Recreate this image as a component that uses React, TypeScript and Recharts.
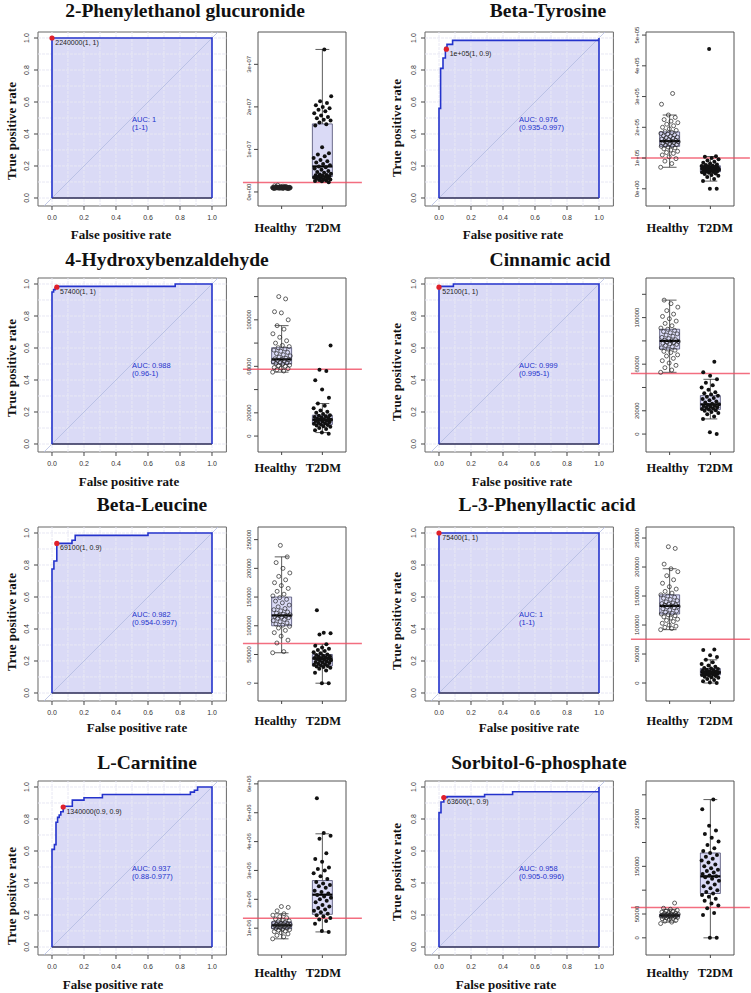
import React from 'react';
import { ComposedChart, XAxis, YAxis, Line, Area, Scatter, ReferenceLine, ReferenceArea } from 'recharts';

// ---------------- DATA ----------------
const titles = [
  '2-Phenylethanol glucuronide', 'Beta-Tyrosine',
  '4-Hydroxybenzaldehyde', 'Cinnamic acid',
  'Beta-Leucine', 'L-3-Phenyllactic acid',
  'L-Carnitine', 'Sorbitol-6-phosphate',
];
const groups = ['Healthy', 'T2DM'];
const rocTicks = [0, 0.2, 0.4, 0.6, 0.8, 1];
const rocTickLabels = ['0.0', '0.2', '0.4', '0.6', '0.8', '1.0'];
const gridSteps = [0, 0.1, 0.2, 0.3, 0.4, 0.5, 0.6, 0.7, 0.8, 0.9, 1];

// ROC curves (false positive rate / true positive rate vertices)
const fpr1 = [0, 0, 1];
const tpr1 = [0, 1, 1];
const fpr2 = [0, 0, 0.01, 0.01, 0.025, 0.025, 0.04, 0.04, 0.05, 0.05, 0.085, 0.085, 1, 1];
const tpr2 = [0, 0.56, 0.56, 0.81, 0.81, 0.875, 0.875, 0.94, 0.94, 0.96, 0.96, 0.985, 0.985, 1];
const fpr3 = [0, 0, 0.01, 0.01, 0.02, 0.02, 0.03, 0.03, 0.77, 0.77, 1];
const tpr3 = [0, 0.95, 0.95, 0.965, 0.965, 0.975, 0.975, 0.985, 0.985, 1, 1];
const fpr4 = [0, 0, 0.09, 0.09, 1];
const tpr4 = [0, 0.985, 0.985, 1, 1];
const fpr5 = [0, 0, 0.012, 0.012, 0.03, 0.03, 0.125, 0.125, 0.145, 0.145, 0.6, 0.6, 1];
const tpr5 = [0, 0.775, 0.775, 0.825, 0.825, 0.935, 0.935, 0.955, 0.955, 0.985, 0.985, 1, 1];
const fpr6 = [0, 0, 1];
const tpr6 = [0, 1, 1];
const fpr7 = [0, 0, 0.015, 0.015, 0.025, 0.025, 0.035, 0.035, 0.045, 0.045, 0.055, 0.055, 0.07, 0.07, 0.127, 0.127, 0.2, 0.2, 0.315, 0.315, 0.865, 0.865, 0.89, 0.89, 0.91, 0.91, 1];
const tpr7 = [0, 0.61, 0.61, 0.64, 0.64, 0.78, 0.78, 0.81, 0.81, 0.825, 0.825, 0.845, 0.845, 0.88, 0.88, 0.918, 0.918, 0.933, 0.933, 0.953, 0.953, 0.968, 0.968, 0.98, 0.98, 1, 1];
const fpr8 = [0, 0, 0.0125, 0.0125, 0.03, 0.03, 0.05, 0.05, 0.285, 0.285, 0.46, 0.46, 1, 1];
const tpr8 = [0, 0.84, 0.84, 0.906, 0.906, 0.934, 0.934, 0.94, 0.94, 0.953, 0.953, 0.97, 0.97, 1];

// best cut-off points on ROC [fpr, tpr] and their labels
const bestPoints = [[0, 1], [0.046, 0.93], [0.03, 0.98], [0, 0.98], [0.03, 0.935], [0, 1], [0.07, 0.875], [0.03, 0.934]];
const bestLabels = ['2240000(1, 1)', '1e+05(1, 0.9)', '57400(1, 1)', '52100(1, 1)', '69100(1, 0.9)', '75400(1, 1)', '1340000(0.9, 0.9)', '63600(1, 0.9)'];
const aucTexts = [
  ['AUC: 1', '(1-1)'], ['AUC: 0.976', '(0.935-0.997)'],
  ['AUC: 0.988', '(0.96-1)'], ['AUC: 0.999', '(0.995-1)'],
  ['AUC: 0.982', '(0.954-0.997)'], ['AUC: 1', '(1-1)'],
  ['AUC: 0.937', '(0.88-0.977)'], ['AUC: 0.958', '(0.905-0.996)'],
];
const aucPos = [0.5, 0.49];

// cut-off values (red line)
const cutoffs = [2240000, 100000, 57400, 52100, 69100, 75400, 1340000, 63600];

// box statistics [lower whisker, Q1, median, Q3, upper whisker]
const box1H = [0.8e6, 0.93e6, 1.0e6, 1.08e6, 1.3e6];
const box1T = [2.3e6, 3.6e6, 6.0e6, 1.6e7, 3.35e7];
const box2H = [70000, 138000, 155000, 185000, 240000];
const box2T = [25000, 55000, 65000, 75000, 105000];
const box3H = [55000, 62000, 66000, 76000, 95000];
const box3T = [3000, 10000, 14000, 18000, 28000];
const box4H = [53000, 73000, 80000, 90000, 115000];
const box4T = [13000, 21000, 25500, 33000, 47000];
const box5H = [53000, 100000, 118000, 150000, 220000];
const box5T = [0, 30000, 43000, 50000, 68000];
const box6H = [92000, 119000, 133000, 152000, 197000];
const box6T = [0, 14000, 19000, 25000, 40000];
const box7H = [0.63e6, 0.98e6, 1.1e6, 1.22e6, 1.5e6];
const box7T = [0.87e6, 1.48e6, 2.16e6, 2.65e6, 4.27e6];
const box8H = [33000, 44000, 47000, 50000, 60000];
const box8T = [0, 93000, 129000, 178000, 290000];

// individual samples
const pts1H = [1.02, 0.95, 1.10, 0.88, 1.05, 0.92, 1.15, 0.98, 1.08, 0.85, 1.20, 0.97, 1.03, 0.90, 1.12, 0.94, 1.00, 1.06, 0.87, 1.25, 0.99, 1.04, 0.93, 1.09, 0.96, 1.30, 0.89, 1.01, 1.14, 0.91, 1.07, 0.95, 1.18, 0.84, 1.02, 0.98, 1.11, 0.80, 1.05, 1.45, 0.97, 1.03, 0.92, 1.35, 1.00, 0.86, 1.08, 0.94, 1.22, 1.60, 0.99, 0.90, 1.06, 0.96].map(v => v * 1e6);
const pts1T = [2.3, 2.5, 2.6, 2.7, 2.8, 2.9, 3.0, 3.1, 3.2, 3.3, 3.4, 3.5, 3.6, 3.7, 3.8, 3.9, 4.0, 4.1, 4.3, 4.5, 4.7, 4.9, 5.2, 5.5, 5.8, 6.0, 6.3, 6.6, 6.9, 7.2, 7.5, 8.0, 8.4, 8.8, 9.1, 10.5, 15.6, 15.9, 16.3, 16.8, 17.0, 17.3, 17.6, 18.0, 18.5, 19.0, 19.3, 19.7, 20.0, 20.4, 20.9, 21.3, 22.5, 33.5].map(v => v * 1e6);
const pts2H = [70, 82, 90, 98, 104, 110, 115, 118, 122, 126, 130, 133, 136, 138, 140, 142, 144, 146, 148, 150, 151, 153, 155, 156, 158, 160, 162, 164, 166, 168, 170, 172, 175, 178, 180, 183, 186, 190, 195, 200, 205, 210, 215, 220, 225, 232, 240, 275, 310].map(v => v * 1e3);
const pts2T = [0, 0, 25, 32, 38, 42, 45, 48, 50, 52, 54, 55, 56, 57, 58, 59, 60, 61, 62, 63, 64, 65, 65, 66, 67, 68, 69, 70, 71, 72, 73, 74, 75, 77, 79, 82, 85, 88, 92, 96, 100, 104, 106, 455].map(v => v * 1e3);
const pts3H = [55, 56, 57, 58, 58.5, 59, 60, 60.5, 61, 62, 62.5, 63, 63.5, 64, 64.5, 65, 65.5, 66, 66.5, 67, 68, 69, 70, 71, 72, 73, 74, 75, 76, 77, 78, 80, 82, 85, 88, 92, 95, 100, 106, 107, 118, 120].map(v => v * 1e3);
const pts3T = [2, 3, 5, 6, 7, 8, 8.5, 9, 9.5, 10, 10.5, 11, 11.5, 12, 12.5, 13, 13.5, 14, 14, 14.5, 15, 15.5, 16, 16.5, 17, 17.5, 18, 19, 20, 21, 22, 24, 26, 28, 33, 40, 48, 56, 57, 78].map(v => v * 1e3);
const pts4H = [53, 55, 57, 59, 61, 63, 65, 67, 68, 70, 71, 72, 73, 74, 75, 76, 77, 77.5, 78, 78.5, 79, 79.5, 80, 80.5, 81, 82, 83, 84, 85, 86, 87, 88, 89, 90, 91, 93, 95, 97, 99, 101, 103, 106, 109, 112, 115].map(v => v * 1e3);
const pts4T = [0, 1.5, 13, 15, 17, 18, 19, 20, 20.5, 21, 21.5, 22, 22.5, 23, 23.5, 24, 24.5, 25, 25.5, 26, 27, 28, 29, 30, 31, 32, 33, 34, 35, 36, 38, 40, 42, 44, 47, 50, 53, 62].map(v => v * 1e3);
const pts5H = [53, 55, 70, 75, 82, 88, 92, 96, 99, 101, 103, 105, 107, 109, 111, 113, 114, 115, 116, 117, 118, 119, 120, 122, 124, 126, 128, 130, 133, 136, 140, 143, 146, 149, 152, 155, 160, 165, 170, 175, 180, 186, 192, 200, 210, 220, 240].map(v => v * 1e3);
const pts5T = [0, 0, 18, 22, 25, 27, 28, 29, 30, 31, 32, 33, 34, 35, 36, 37, 38, 39, 40, 41, 42, 43, 43.5, 44, 45, 46, 47, 48, 49, 50, 52, 54, 56, 58, 60, 62, 65, 68, 85, 87, 88, 127].map(v => v * 1e3);
const pts6H = [92, 94, 96, 98, 100, 103, 106, 108, 110, 112, 114, 116, 118, 119, 120, 122, 124, 126, 128, 130, 131, 132, 133, 134, 135, 136, 137, 138, 140, 142, 144, 146, 148, 150, 152, 155, 158, 162, 166, 172, 178, 185, 192, 197, 205, 232, 235].map(v => v * 1e3);
const pts6T = [0, 1, 3, 5, 7, 9, 10, 11, 12, 13, 14, 14.5, 15, 15.5, 16, 16.5, 17, 17.5, 18, 18.5, 19, 19.5, 20, 21, 22, 23, 24, 25, 26, 28, 30, 33, 36, 40, 45, 48, 57, 58].map(v => v * 1e3);
const pts7H = [0.63, 0.7, 0.75, 0.8, 0.84, 0.88, 0.9, 0.93, 0.95, 0.97, 0.99, 1.0, 1.02, 1.04, 1.05, 1.06, 1.07, 1.08, 1.09, 1.1, 1.11, 1.12, 1.13, 1.14, 1.15, 1.16, 1.18, 1.2, 1.22, 1.25, 1.28, 1.32, 1.36, 1.4, 1.45, 1.5, 1.6, 1.72, 1.75].map(v => v * 1e6);
const pts7T = [0.87, 0.9, 1.15, 1.25, 1.3, 1.35, 1.4, 1.45, 1.5, 1.55, 1.6, 1.65, 1.7, 1.75, 1.8, 1.9, 1.95, 2.0, 2.05, 2.1, 2.15, 2.2, 2.25, 2.3, 2.4, 2.45, 2.5, 2.55, 2.6, 2.7, 2.8, 2.9, 3.0, 3.05, 3.1, 3.3, 3.4, 3.6, 4.1, 4.2, 4.3, 5.5].map(v => v * 1e6);
const pts8H = [30, 33, 35, 37, 39, 40, 41, 42, 43, 43.5, 44, 44.5, 45, 45.5, 46, 46.5, 47, 47.5, 48, 48.5, 49, 49.5, 50, 51, 52, 53, 54, 55, 56, 58, 60, 62, 73].map(v => v * 1e3);
const pts8T = [0, 0, 48, 52, 62, 68, 72, 78, 82, 86, 90, 93, 96, 100, 104, 108, 112, 116, 120, 124, 127, 129, 131, 134, 137, 140, 143, 146, 150, 154, 158, 162, 166, 170, 174, 178, 182, 188, 195, 202, 210, 218, 225, 235, 270, 290].map(v => v * 1e3);

// box-plot y axes
const yDomain1 = [-0.33e7, 3.76e7];
const yTicks1 = [0, 1e7, 2e7, 3e7];
const yLabels1 = ['0e+00', '1e+07', '2e+07', '3e+07'];
const yDomain2 = [-56000, 510000];
const yTicks2 = [0, 100000, 200000, 300000, 400000, 500000];
const yLabels2 = ['0e+00', '1e+05', '2e+05', '3e+05', '4e+05', '5e+05'];
const yDomain3 = [-13700, 136000];
const yDomain4 = [-15400, 134000];
const yTicks34 = [0, 20000, 40000, 60000, 80000, 100000, 120000];
const yLabels34 = ['0', '20000', '', '60000', '', '100000', ''];
const yDomain5 = [-31000, 272000];
const yDomain6 = [-31000, 269000];
const yTicks56 = [0, 50000, 100000, 150000, 200000, 250000];
const yLabels56 = ['0', '50000', '100000', '150000', '200000', '250000'];
const yDomain7 = [0.07e6, 6.1e6];
const yTicks7 = [1e6, 2e6, 3e6, 4e6, 5e6, 6e6];
const yLabels7 = ['1e+06', '2e+06', '3e+06', '4e+06', '5e+06', '6e+06'];
const yDomain8 = [-36000, 329000];
const yTicks8 = [0, 50000, 100000, 150000, 200000, 250000, 300000];
const yLabels8 = ['0', '50000', '', '150000', '', '250000', ''];

const panels = [
  { fpr: fpr1, tpr: tpr1, bh: box1H, bt: box1T, ph: pts1H, pt: pts1T, yd: yDomain1, yt: yTicks1, yl: yLabels1 },
  { fpr: fpr2, tpr: tpr2, bh: box2H, bt: box2T, ph: pts2H, pt: pts2T, yd: yDomain2, yt: yTicks2, yl: yLabels2 },
  { fpr: fpr3, tpr: tpr3, bh: box3H, bt: box3T, ph: pts3H, pt: pts3T, yd: yDomain3, yt: yTicks34, yl: yLabels34 },
  { fpr: fpr4, tpr: tpr4, bh: box4H, bt: box4T, ph: pts4H, pt: pts4T, yd: yDomain4, yt: yTicks34, yl: yLabels34 },
  { fpr: fpr5, tpr: tpr5, bh: box5H, bt: box5T, ph: pts5H, pt: pts5T, yd: yDomain5, yt: yTicks56, yl: yLabels56 },
  { fpr: fpr6, tpr: tpr6, bh: box6H, bt: box6T, ph: pts6H, pt: pts6T, yd: yDomain6, yt: yTicks56, yl: yLabels56 },
  { fpr: fpr7, tpr: tpr7, bh: box7H, bt: box7T, ph: pts7H, pt: pts7T, yd: yDomain7, yt: yTicks7, yl: yLabels7 },
  { fpr: fpr8, tpr: tpr8, bh: box8H, bt: box8T, ph: pts8H, pt: pts8T, yd: yDomain8, yt: yTicks8, yl: yLabels8 },
];

// ---------------- LAYOUT / STYLE ----------------
const SANS = '"Liberation Sans", Arial, sans-serif';
const SERIF = '"Liberation Serif", "Times New Roman", serif';
const ROC_X_DOMAIN = [-0.0875, 1.09];
const ROC_Y_DOMAIN = [-0.05, 1.0375];
const ROC_FRAME_W = 188.4;
const FRAME_H = 174;
const BOX_X_DOMAIN = [0.42, 2.58];
const BOX_FRAME_W = 88;

const COLS = [
  { rocL: 38, boxL: 258, yTitleX: 12, catDx: [-6, 1] },
  { rocL: 425, boxL: 646, yTitleX: 397, catDx: [-2, 5] },
];
const ROWS = [
  { top: 32, titleY: 10, xTitleY: 235, catOff: 21 },
  { top: 278, titleY: 259, xTitleY: 482, catOff: 15 },
  { top: 527, titleY: 504, xTitleY: 728, catOff: 19 },
  { top: 781, titleY: 762, xTitleY: 985, catOff: 17 },
];
const TITLE_X = [185, 548, 167, 550, 152, 547, 147, 539];
const Y_TITLE_Y = [131, 128, 368, 372, 622, 621, 896, 872];
const X_TITLE_X = [121, 513, 129, 522, 137, 529, 113, 506];

const BLUE = '#2433cc';
const LAVENDER = '#dadaf6';

const jit = (i: number) => ((((i * 0.6180339887) % 1) - 0.5) * 0.44);

function RocChart({ idx }: { idx: number }) {
  const p = panels[idx];
  const col = COLS[idx % 2];
  const row = ROWS[Math.floor(idx / 2)];
  const pts = p.fpr.map((x, i) => ({ fpr: x, tpr: p.tpr[i] }));
  const edge = [...pts, { fpr: 1, tpr: 0 }];
  const bottom = [{ fpr: 1, tpr: 0 }, { fpr: 0, tpr: 0 }];
  const best = [{ fpr: bestPoints[idx][0], tpr: bestPoints[idx][1] }];
  const auc = [{ fpr: aucPos[0], tpr: aucPos[1] }];
  const W = 40 + ROC_FRAME_W + 10;
  const H = 10 + FRAME_H + 40;
  return (
    <div style={{ position: 'absolute', left: col.rocL - 40, top: row.top - 10 }}>
      <ComposedChart width={W} height={H} margin={{ top: 10, right: 10, left: 0, bottom: 0 }}>
        <XAxis type="number" dataKey="fpr" domain={ROC_X_DOMAIN} allowDataOverflow ticks={rocTicks} interval={0}
          axisLine={false} tickLine={{ stroke: '#444' }} tickSize={4} tickMargin={0} height={40}
          tick={(t: any) => (
            <text x={t.x} y={t.y + 10.5} textAnchor="middle" fontSize={7} fontFamily={SANS} fill="#333">
              {rocTickLabels[rocTicks.indexOf(t.payload.value)]}
            </text>
          )} />
        <YAxis type="number" dataKey="tpr" domain={ROC_Y_DOMAIN} allowDataOverflow ticks={rocTicks} interval={0}
          axisLine={false} tickLine={{ stroke: '#444' }} tickSize={4} tickMargin={0} width={40}
          tick={(t: any) => (
            <text x={t.x - 5} y={t.y} transform={`rotate(-90 ${t.x - 5} ${t.y})`} textAnchor="middle" fontSize={7} fontFamily={SANS} fill="#333">
              {rocTickLabels[rocTicks.indexOf(t.payload.value)]}
            </text>
          )} />
        <Area data={pts} dataKey="tpr" type="linear" stroke="none" fill={LAVENDER} fillOpacity={1} baseValue={0} isAnimationActive={false} />
        {gridSteps.map(v => <ReferenceLine key={'gx' + v} x={v} stroke="#e8e8f4" strokeWidth={1} strokeDasharray="3 1" />)}
        {gridSteps.map(v => <ReferenceLine key={'gy' + v} y={v} stroke="#e8e8f4" strokeWidth={1} strokeDasharray="3 1" />)}
        <ReferenceLine segment={[{ x: -0.2, y: -0.2 }, { x: 1.2, y: 1.2 }]} ifOverflow="hidden" stroke="#b3bbe2" strokeWidth={0.8} />
        <Line data={bottom} dataKey="tpr" type="linear" stroke="#2a2a55" strokeWidth={1.3} dot={false} isAnimationActive={false} />
        <Line data={edge} dataKey="tpr" type="linear" stroke={BLUE} strokeWidth={1.6} dot={false} isAnimationActive={false} />
        <ReferenceArea x1={ROC_X_DOMAIN[0]} x2={ROC_X_DOMAIN[1]} y1={ROC_Y_DOMAIN[0]} y2={ROC_Y_DOMAIN[1]} ifOverflow="visible" fill="none" fillOpacity={0} stroke="#666" strokeWidth={1} />
        <Scatter data={auc} isAnimationActive={false}
          shape={(s: any) => (
            <g>
              <text x={s.cx} y={s.cy + 2.5} fontSize={7.5} fontFamily={SANS} fill={BLUE}>{aucTexts[idx][0]}</text>
              <text x={s.cx} y={s.cy + 10.8} fontSize={7.5} fontFamily={SANS} fill={BLUE}>{aucTexts[idx][1]}</text>
            </g>
          )} />
        <Scatter data={best} isAnimationActive={false}
          shape={(s: any) => (
            <g>
              <circle cx={s.cx} cy={s.cy} r={2.6} fill="#e0202a" />
              <text x={s.cx + 3.3} y={s.cy + 6.8} fontSize={7} fontFamily={SANS} fill="#222">{bestLabels[idx]}</text>
            </g>
          )} />
      </ComposedChart>
    </div>
  );
}

function BoxChart({ idx }: { idx: number }) {
  const p = panels[idx];
  const col = COLS[idx % 2];
  const row = ROWS[Math.floor(idx / 2)];
  const hPts = p.ph.map((v, i) => ({ gx: 1 + jit(i), v }));
  const tPts = p.pt.map((v, i) => ({ gx: 2 + jit(i + 3), v }));
  const W = 30 + BOX_FRAME_W + 20;
  const H = 10 + FRAME_H + 35;
  const stats = [p.bh, p.bt];
  return (
    <div style={{ position: 'absolute', left: col.boxL - 30, top: row.top - 10 }}>
      <ComposedChart width={W} height={H} margin={{ top: 10, right: 20, left: 0, bottom: 0 }}>
        <XAxis type="number" dataKey="gx" domain={BOX_X_DOMAIN} allowDataOverflow ticks={[1, 2]} interval={0}
          axisLine={false} tickLine={{ stroke: '#444' }} tickSize={3} tickMargin={0} height={35}
          tick={(t: any) => (
            <text x={t.x + col.catDx[t.payload.value - 1]} y={t.y + row.catOff + 1.5} textAnchor="middle" fontSize={12.5} fontWeight="bold" fontFamily={SERIF} fill="#111">
              {groups[t.payload.value - 1]}
            </text>
          )} />
        <YAxis type="number" dataKey="v" domain={p.yd} allowDataOverflow ticks={p.yt} interval={0}
          axisLine={false} tickLine={{ stroke: '#444' }} tickSize={4} tickMargin={0} width={30}
          tick={(t: any) => (
            <text x={t.x - 3} y={t.y} transform={`rotate(-90 ${t.x - 3} ${t.y})`} textAnchor="middle" fontSize={6} fontFamily={SANS} fill="#333">
              {p.yl[p.yt.indexOf(t.payload.value)]}
            </text>
          )} />
        <ReferenceArea x1={BOX_X_DOMAIN[0]} x2={BOX_X_DOMAIN[1]} y1={p.yd[0]} y2={p.yd[1]} ifOverflow="visible" fill="none" fillOpacity={0} stroke="#555" strokeWidth={1} />
        {stats.map((s, g) => [
          <ReferenceLine key={'wu' + g} segment={[{ x: g + 1, y: s[3] }, { x: g + 1, y: s[4] }]} ifOverflow="visible" stroke="#333" strokeWidth={0.8} />,
          <ReferenceLine key={'wl' + g} segment={[{ x: g + 1, y: s[0] }, { x: g + 1, y: s[1] }]} ifOverflow="visible" stroke="#333" strokeWidth={0.8} />,
          <ReferenceLine key={'cu' + g} segment={[{ x: g + 1 - 0.17, y: s[4] }, { x: g + 1 + 0.17, y: s[4] }]} ifOverflow="visible" stroke="#333" strokeWidth={0.8} />,
          <ReferenceLine key={'cl' + g} segment={[{ x: g + 1 - 0.17, y: s[0] }, { x: g + 1 + 0.17, y: s[0] }]} ifOverflow="visible" stroke="#333" strokeWidth={0.8} />,
          <ReferenceArea key={'bx' + g} x1={g + 1 - 0.245} x2={g + 1 + 0.245} y1={s[1]} y2={s[3]} ifOverflow="visible" fill={LAVENDER} fillOpacity={1} stroke="#4b4b70" strokeWidth={0.8} />,
          <ReferenceLine key={'md' + g} segment={[{ x: g + 1 - 0.245, y: s[2] }, { x: g + 1 + 0.245, y: s[2] }]} ifOverflow="visible" stroke="#000" strokeWidth={2.2} />,
        ])}
        <Scatter data={hPts} isAnimationActive={false}
          shape={(s: any) => <circle cx={s.cx} cy={s.cy} r={2} fill="none" stroke="#222" strokeWidth={0.7} />} />
        <Scatter data={tPts} isAnimationActive={false}
          shape={(s: any) => <circle cx={s.cx} cy={s.cy} r={2} fill="#111" />} />
        <ReferenceLine segment={[{ x: 0.05, y: cutoffs[idx] }, { x: 2.97, y: cutoffs[idx] }]} ifOverflow="visible" stroke="#f04a60" strokeOpacity={0.8} strokeWidth={1.5} />
      </ComposedChart>
    </div>
  );
}

function Overlay() {
  return (
    <svg width={751} height={993} style={{ position: 'absolute', left: 0, top: 0, pointerEvents: 'none' }}>
      {titles.map((t, i) => {
        const row = ROWS[Math.floor(i / 2)];
        return (
          <text key={'t' + i} x={TITLE_X[i]} y={row.titleY + 6.5} textAnchor="middle" fontSize={19.5} fontWeight="bold" fontFamily={SERIF} fill="#111">{t}</text>
        );
      })}
      {titles.map((_, i) => {
        const row = ROWS[Math.floor(i / 2)];
        const col = COLS[i % 2];
        return (
          <g key={'a' + i}>
            <text transform={`translate(${col.yTitleX + 3.5},${Y_TITLE_Y[i]}) rotate(-90)`} textAnchor="middle" fontSize={13} fontWeight="bold" fontFamily={SERIF} fill="#111">True positive rate</text>
            <text x={X_TITLE_X[i]} y={row.xTitleY + 3.5} textAnchor="middle" fontSize={13} fontWeight="bold" fontFamily={SERIF} fill="#111">False positive rate</text>
          </g>
        );
      })}
    </svg>
  );
}

export default function App() {
  return (
    <div style={{ position: 'absolute', left: 0, top: 0, width: 751, height: 993, background: '#fff' }}>
      {panels.map((_, i) => <RocChart key={'r' + i} idx={i} />)}
      {panels.map((_, i) => <BoxChart key={'b' + i} idx={i} />)}
      <Overlay />
    </div>
  );
}
